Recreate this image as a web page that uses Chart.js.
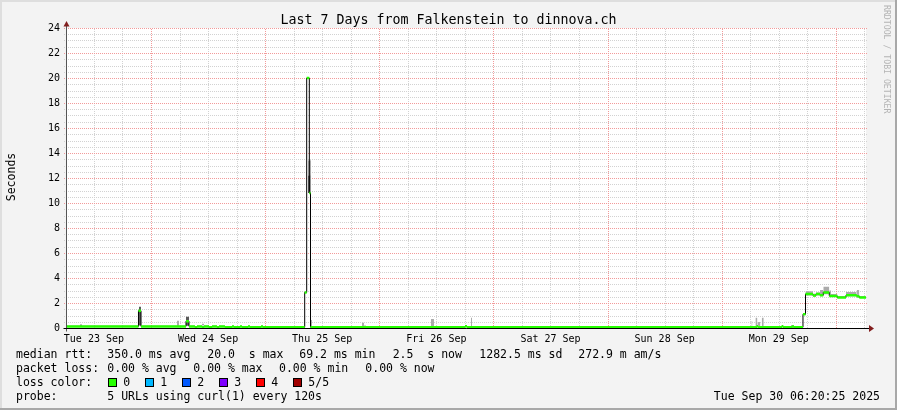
<!DOCTYPE html>
<html><head><meta charset="utf-8">
<style>html,body{margin:0;padding:0;background:#f3f3f3;overflow:hidden}canvas{display:block}</style>
<script src="https://cdn.jsdelivr.net/npm/chart.js@4.4.1/dist/chart.umd.min.js"></script>
</head><body>
<canvas id="c" width="897" height="410"></canvas>
<script>
// ---- time axis: hours since Tue 23 Sep 00:00 ----
const startHour = 6.34;          // Tue 23 Sep 06:20:25
const endHour = 174.34;          // Tue 30 Sep 06:20:25
const dayLabels = ['Tue 23 Sep','Wed 24 Sep','Thu 25 Sep','Fri 26 Sep','Sat 27 Sep','Sun 28 Sep','Mon 29 Sep'];
const dayLabelHours = [12, 36, 60, 84, 108, 132, 156];
const yTickLabels = ['0','2','4','6','8','10','12','14','16','18','20','22','24'];

// ---- median rtt (seconds), value holds from time until next time ----
const medianTimes = [6.34, 21.37, 21.90, 31.36, 31.99, 33.25, 33.67, 34.73, 35.15, 36.20, 36.83, 37.88, 38.30,
  39.56, 41.03, 41.45, 42.71, 43.14, 44.40, 44.82, 47.13, 47.55, 56.32, 56.74, 57.29, 57.54, 90.02, 90.44,
  151.36, 151.63, 156.61, 156.95, 158.78, 159.20, 161.09, 161.62, 163.19, 163.82, 164.67, 165.36, 166.62,
  168.30, 170.13, 172.38, 172.93, 174.34];
const medianValues = [0.13, 1.38, 0.13, 0.55, 0.13, 0.06, 0.13, 0.06, 0.13, 0.06, 0.13, 0.06, 0.13,
  0.06, 0.13, 0.06, 0.13, 0.06, 0.13, 0.06, 0.13, 0.06, 2.85, 20.0, 10.8, 0.06, 0.14, 0.06,
  0.14, 0.06, 0.14, 0.06, 0.12, 0.06, 1.10, 2.72, 2.60, 2.72, 2.62, 2.85, 2.57,
  2.45, 2.62, 2.55, 2.45, 2.45];

// ---- light smoke (spread of the pings) ----
const smokeStart = [9.07, 29.47, 34.73, 57.01, 57.44, 68.37, 68.79, 82.87, 91.29, 150.25, 151.09, 151.51, 152.42,
  161.62, 163.19, 163.82, 164.67, 165.36, 166.62, 166.98, 168.30, 170.13, 172.38, 172.93];
const smokeEnd = [9.49, 29.89, 35.15, 57.64, 57.86, 68.79, 69.21, 83.50, 91.50, 150.46, 151.51, 152.14, 152.84,
  163.19, 163.82, 164.67, 165.36, 166.62, 166.98, 168.30, 170.13, 172.38, 172.93, 174.13];
const smokeLow = [0.15, 0.18, 0.20, 12.2, 0.10, 0.10, 0.10, 0.10, 0.10, 0.10, 0.10, 0.10, 0.10,
  2.60, 2.50, 2.60, 2.55, 2.70, 2.50, 2.50, 2.40, 2.55, 2.45, 2.40];
const smokeHigh = [0.30, 0.58, 0.35, 13.4, 0.64, 0.42, 0.20, 0.72, 0.82, 0.56, 0.82, 0.48, 0.82,
  2.95, 2.75, 2.85, 3.05, 3.30, 3.00, 2.72, 2.55, 2.88, 3.05, 2.55];

// ---- dark smoke cores ----
const coreStart = [21.48, 31.36, 57.01, 158.57];
const coreEnd = [21.90, 31.99, 57.54, 159.20];
const coreLow = [0.20, 0.18, 10.8, 0.05];
const coreHigh = [1.70, 0.90, 12.2, 0.20];

// ---- legend ----
const rttLabel = 'median rtt:';
const rttStats = ['350.0 ms avg', '20.0  s max', '69.2 ms min', '2.5  s now', '1282.5 ms sd', '272.9 m am/s'];
const lossLabel = 'packet loss:';
const lossStats = ['0.00 % avg', '0.00 % max', '0.00 % min', '0.00 % now'];
const lossColorLabel = 'loss color:';
const lossColors = ['#26ff00', '#00b8ff', '#0059ff', '#7e00ff', '#ff0000', '#a00000'];
const lossColorNames = ['0', '1', '2', '3', '4', '5/5'];
const probeLabel = 'probe:';
const probeText = '5 URLs using curl(1) every 120s';
const dateText = 'Tue Sep 30 06:20:25 2025';
const titleText = 'Last 7 Days from Falkenstein to dinnova.ch';
const yTitle = 'Seconds';
const sideText = 'RRDTOOL / TOBI OETIKER';

// ---- build datasets ----
function blockLine(s, e, v) {
  const out = [];
  for (let i = 0; i < s.length; i++) out.push({x: s[i], y: v[i]}, {x: e[i], y: v[i]}, {x: e[i], y: null});
  return out;
}
const greenData = [];
for (let i = 0; i < medianTimes.length - 1; i++) {
  greenData.push({x: medianTimes[i], y: medianValues[i]}, {x: medianTimes[i + 1], y: medianValues[i]}, {x: medianTimes[i + 1], y: null});
}
const blackData = medianTimes.map((t, i) => ({x: t, y: medianValues[i]}));

const MONO = '"DejaVu Sans Mono", monospace';
const RED_GRID = '#f29a9a';
const GRAY_GRID = '#d2d2d2';

const xGrid = [];
for (let h = 12; h <= endHour; h += 6) xGrid.push(h);
const yGrid = [];
for (let v = 0; v <= 24; v += 0.5) yGrid.push(v);

const framePlugin = {
  id: 'frame',
  beforeDraw(chart) {
    const ctx = chart.ctx, a = chart.chartArea;
    ctx.save();
    ctx.fillStyle = '#f3f3f3'; ctx.fillRect(0, 0, 897, 410);
    ctx.fillStyle = '#dedede'; ctx.fillRect(0, 0, 897, 2); ctx.fillRect(0, 0, 2, 410);
    ctx.fillStyle = '#a8a8a8'; ctx.fillRect(0, 408, 897, 2); ctx.fillRect(895, 0, 2, 410);
    ctx.fillStyle = '#ffffff'; ctx.fillRect(a.left, a.top, a.right - a.left, a.bottom - a.top);
    ctx.restore();
  },
  beforeDatasetsDraw(chart) {
    const ctx = chart.ctx, a = chart.chartArea, xs = chart.scales.x, ys = chart.scales.y;
    ctx.save();
    ctx.lineWidth = 1;
    ctx.setLineDash([1, 1]);
    for (const pass of [0, 1]) {
      for (const h of xGrid) {
        const major = Math.round(h) % 24 === 0;
        if ((pass === 1) !== major) continue;
        const px = Math.round(xs.getPixelForValue(h)) + 0.5;
        ctx.strokeStyle = major ? RED_GRID : GRAY_GRID;
        ctx.beginPath(); ctx.moveTo(px, a.bottom); ctx.lineTo(px, a.top); ctx.stroke();
      }
      for (const v of yGrid) {
        const major = Math.abs(v % 2) < 1e-9;
        if ((pass === 1) !== major) continue;
        const py = Math.round(ys.getPixelForValue(v)) + 0.5;
        ctx.strokeStyle = major ? RED_GRID : GRAY_GRID;
        ctx.beginPath(); ctx.moveTo(a.left - 3, py); ctx.lineTo(a.right + 1, py); ctx.stroke();
      }
    }
    ctx.restore();
  },
  afterDatasetsDraw(chart) {
    const ctx = chart.ctx, a = chart.chartArea;
    const y0 = Math.round(chart.scales.y.getPixelForValue(0)) + 0.5;
    const xl = Math.round(a.left) - 0.5;
    ctx.save();
    ctx.lineWidth = 1;
    ctx.strokeStyle = '#555555';
    ctx.beginPath(); ctx.moveTo(xl, y0 + 3); ctx.lineTo(xl, a.top - 4); ctx.stroke();
    ctx.strokeStyle = '#000000';
    ctx.beginPath(); ctx.moveTo(xl - 3, y0); ctx.lineTo(a.right + 4, y0); ctx.stroke();
    ctx.fillStyle = '#821e1e';
    ctx.beginPath(); ctx.moveTo(xl - 3, a.top - 1.5); ctx.lineTo(xl + 3, a.top - 1.5); ctx.lineTo(xl, a.top - 7); ctx.closePath(); ctx.fill();
    ctx.beginPath(); ctx.moveTo(a.right + 3, y0 - 3.5); ctx.lineTo(a.right + 3, y0 + 3.5); ctx.lineTo(a.right + 8, y0); ctx.closePath(); ctx.fill();
    ctx.restore();
  },
  afterDraw(chart) {
    const ctx = chart.ctx;
    ctx.save();
    ctx.fillStyle = '#000';
    ctx.textBaseline = 'alphabetic';
    ctx.font = '13.3px ' + MONO; ctx.textAlign = 'center';
    ctx.fillText(titleText, 448.5, 24);
    ctx.font = '11.5px ' + MONO;
    ctx.save(); ctx.translate(15, 177); ctx.rotate(-Math.PI / 2); ctx.textAlign = 'center'; ctx.fillText(yTitle, 0, 0); ctx.restore();
    ctx.save(); ctx.font = '8.2px ' + MONO; ctx.fillStyle = '#b4b4b4'; ctx.translate(883.5, 5); ctx.rotate(Math.PI / 2);
    ctx.textAlign = 'left'; ctx.fillText(sideText, 0, 0); ctx.restore();
    ctx.font = '11.5px ' + MONO; ctx.textAlign = 'left';
    const rowY = [358, 372, 386, 400];
    ctx.fillText(rttLabel, 16, rowY[0]);
    const rttX = [107.3, 207.3, 299.3, 392.7, 479.3, 578.3];
    rttStats.forEach((s, i) => ctx.fillText(s, rttX[i], rowY[0]));
    ctx.fillText(lossLabel, 16, rowY[1]);
    const lossX = [107.3, 193.3, 279, 365.3];
    lossStats.forEach((s, i) => ctx.fillText(s, lossX[i], rowY[1]));
    ctx.fillText(lossColorLabel, 16, rowY[2]);
    lossColors.forEach((c, i) => {
      const bx = 108.5 + i * 37;
      ctx.fillStyle = c; ctx.fillRect(bx, 378.5, 8, 8);
      ctx.strokeStyle = '#000'; ctx.lineWidth = 1; ctx.strokeRect(bx, 378.5, 8, 8);
      ctx.fillStyle = '#000'; ctx.fillText(lossColorNames[i], bx + 14.8, rowY[2]);
    });
    ctx.fillText(probeLabel, 16, rowY[3]);
    ctx.fillText(probeText, 107.3, rowY[3]);
    ctx.textAlign = 'right';
    ctx.fillText(dateText, 880, rowY[3]);
    ctx.restore();
  }
};

new Chart(document.getElementById('c'), {
  type: 'line',
  data: {
    datasets: [
      {label: 'median loss 0', data: greenData, borderColor: lossColors[0], borderWidth: 2.5, pointRadius: 0, spanGaps: false, borderCapStyle: 'butt'},
      {label: 'median', data: blackData, stepped: 'before', borderColor: '#000000', borderWidth: 1, pointRadius: 0},
      {label: 'core hi', data: blockLine(coreStart, coreEnd, coreHigh), borderWidth: 0, pointRadius: 0, fill: 3, backgroundColor: '#5a5a5a', borderColor: 'rgba(0,0,0,0)'},
      {label: 'core lo', data: blockLine(coreStart, coreEnd, coreLow), borderWidth: 0, pointRadius: 0, fill: false, borderColor: 'rgba(0,0,0,0)'},
      {label: 'smoke hi', data: blockLine(smokeStart, smokeEnd, smokeHigh), borderWidth: 0, pointRadius: 0, fill: 5, backgroundColor: '#ababab', borderColor: 'rgba(0,0,0,0)'},
      {label: 'smoke lo', data: blockLine(smokeStart, smokeEnd, smokeLow), borderWidth: 0, pointRadius: 0, fill: false, borderColor: 'rgba(0,0,0,0)'}
    ]
  },
  options: {
    responsive: false,
    animation: false,
    devicePixelRatio: 1,
    events: [],
    layout: {padding: {top: 28, right: 31, bottom: 62, left: 0}},
    plugins: {legend: {display: false}, tooltip: {enabled: false}, title: {display: false}},
    elements: {line: {tension: 0}},
    scales: {
      x: {
        type: 'linear', min: startHour, max: endHour, offset: false,
        afterBuildTicks: s => { s.ticks = xGrid.map(v => ({value: v})); },
        afterFit: s => { s.height = 20; },
        ticks: {
          autoSkip: false, maxRotation: 0, padding: 5, color: '#000',
          font: {family: MONO, size: 10},
          callback: v => { const i = dayLabelHours.indexOf(v); return i >= 0 ? dayLabels[i] : ''; }
        },
        grid: {display: false, drawTicks: false},
        border: {display: false}
      },
      y: {
        type: 'linear', min: 0, max: 24,
        afterBuildTicks: s => { s.ticks = yGrid.map(v => ({value: v})); },
        afterFit: s => { s.width = 67; },
        ticks: {
          autoSkip: false, padding: 7, color: '#000',
          font: {family: MONO, size: 10},
          callback: v => yTickLabels.includes(String(v)) ? String(v) : ''
        },
        grid: {display: false, drawTicks: false},
        border: {display: false}
      }
    }
  },
  plugins: [framePlugin]
});
</script>
</body></html>
